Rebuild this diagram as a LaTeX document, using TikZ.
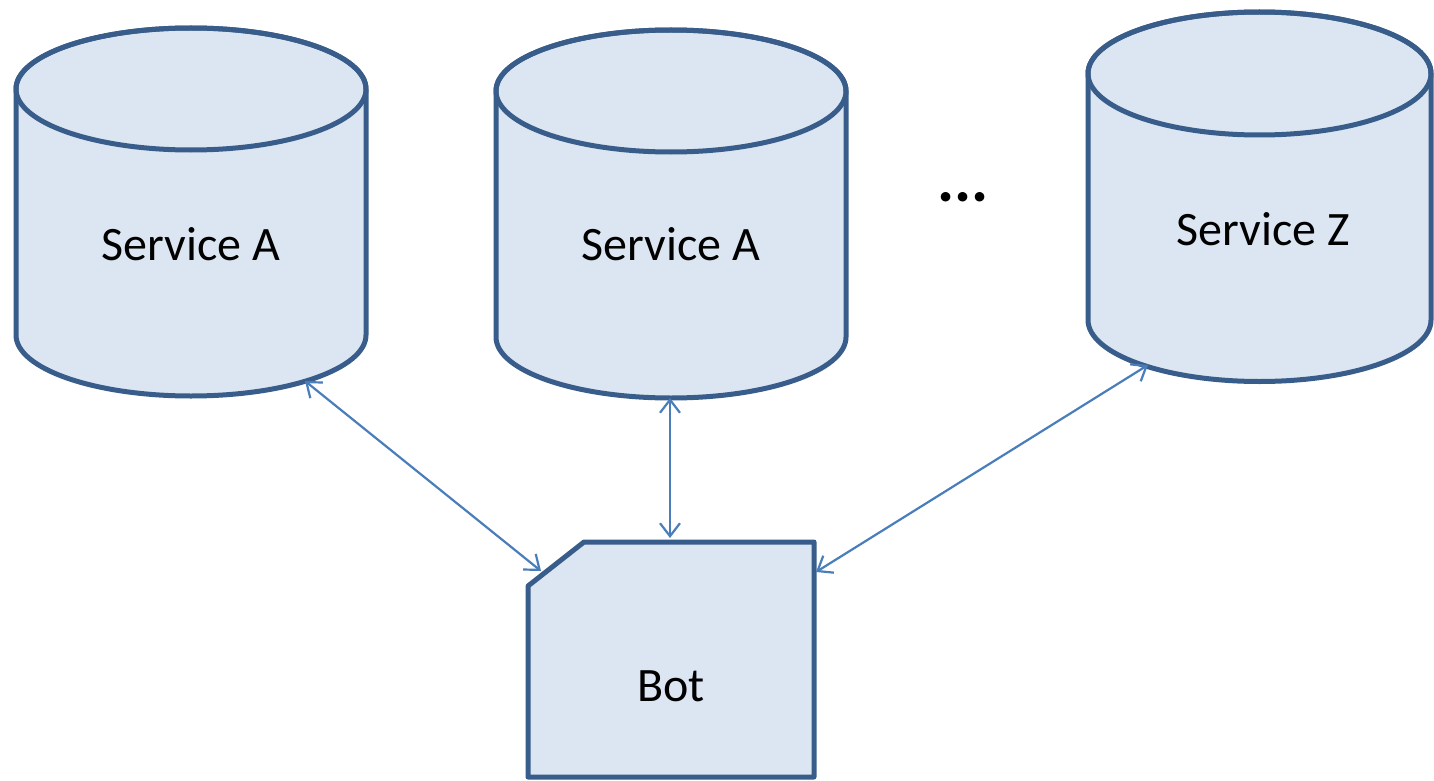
\documentclass[tikz,border=0pt]{standalone}
\usepackage{fontspec}
\setmainfont{Carlito}
\usetikzlibrary{arrows.meta}
\definecolor{edgeblue}{RGB}{56,93,138}
\definecolor{fillblue}{RGB}{220,230,242}
\definecolor{linkblue}{RGB}{74,126,187}
\tikzset{
  shapeline/.style={draw=edgeblue, line width=5pt, fill=fillblue, line join=round},
  lbl/.style={font=\fontsize{48}{56}\selectfont, text=black, inner sep=0pt},
  link/.style={draw=linkblue, line width=2.2pt, {Straight Barb[length=13pt,width=20pt,line width=2.2pt]}-{Straight Barb[length=13pt,width=20pt,line width=2.2pt]}}
}
\newcommand{\cyl}[5]{% cx, cy top, cy bottom, rx, ry
  \draw[shapeline] (#1-#4,#2) -- (#1-#4,#3) arc[start angle=180,end angle=0,x radius=#4,y radius=#5] -- (#1+#4,#2) arc[start angle=0,end angle=-180,x radius=#4,y radius=#5] -- cycle;
  \draw[shapeline, fill=none] (#1,#2) ellipse[x radius=#4, y radius=#5];
}
\begin{document}
\begin{tikzpicture}[x=1pt,y=-1pt]
\useasboundingbox (0,0) rectangle (1434,781);
% cylinders
\cyl{191}{89}{335}{175}{61}
\cyl{671}{91}{337}{175}{61}
\cyl{1259.5}{73.5}{320}{171.5}{61.5}
% bot
\draw[shapeline] (584,542) -- (814,542) -- (814,777) -- (528,777) -- (528,586) -- cycle;
% labels
\node[lbl] (sa1) at (191,244) {Service A};
\node[lbl] (sa2) at (671,244) {Service A};
\node[lbl] (sz) at (1263,229) {Service Z};
\node[lbl] (bot) at (671,686) {Bot};
\node[lbl, font=\fontsize{64}{70}\selectfont\bfseries] (dots) at (963,197) {...};
% connector ends
\coordinate (c1) at (305,381);
\coordinate (c2) at (670,398);
\coordinate (c3) at (1148,365);
\coordinate (b1) at (541,571);
\coordinate (b2) at (670,538);
\coordinate (b3) at (816,572);
\draw[link] (c1) -- (b1);
\draw[link] (c2) -- (b2);
\draw[link] (c3) -- (b3);
\end{tikzpicture}
\end{document}
